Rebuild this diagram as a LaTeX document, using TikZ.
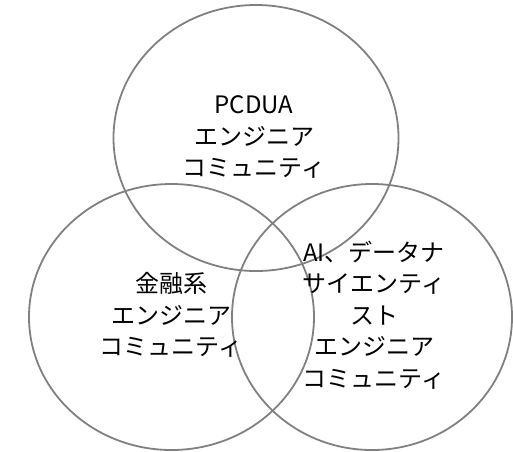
\documentclass[tikz,border=0pt]{standalone}
\usepackage{fontspec}
\setmainfont{Noto Sans CJK JP}
\usetikzlibrary{shapes.geometric}
\tikzset{
  venn/.style={ellipse, draw=black!50, line width=1.8pt, minimum width=285pt, minimum height=266pt, inner sep=0pt},
  lbl/.style={align=center, font=\fontsize{24}{31.5}\selectfont, text=black, inner sep=0pt}
}
\begin{document}
\begin{tikzpicture}[x=1pt,y=-1pt]
\useasboundingbox (0,0) rectangle (513,451);
\node[venn] (top) at (256,138) {};
\node[venn] (left) at (171.5,317) {};
\node[venn, minimum width=280pt] (right) at (372,317) {};
\node[lbl] (ttop) at (254,137) {PCDUA\\エンジニア\\コミュニティ};
\node[lbl] (tleft) at (171,315) {金融系\\エンジニア\\コミュニティ};
\node[lbl] (tright) at (374,315) {AI、データナ\\サイエンティ\\スト\\エンジニア\\コミュニティ};
\end{tikzpicture}
\end{document}
